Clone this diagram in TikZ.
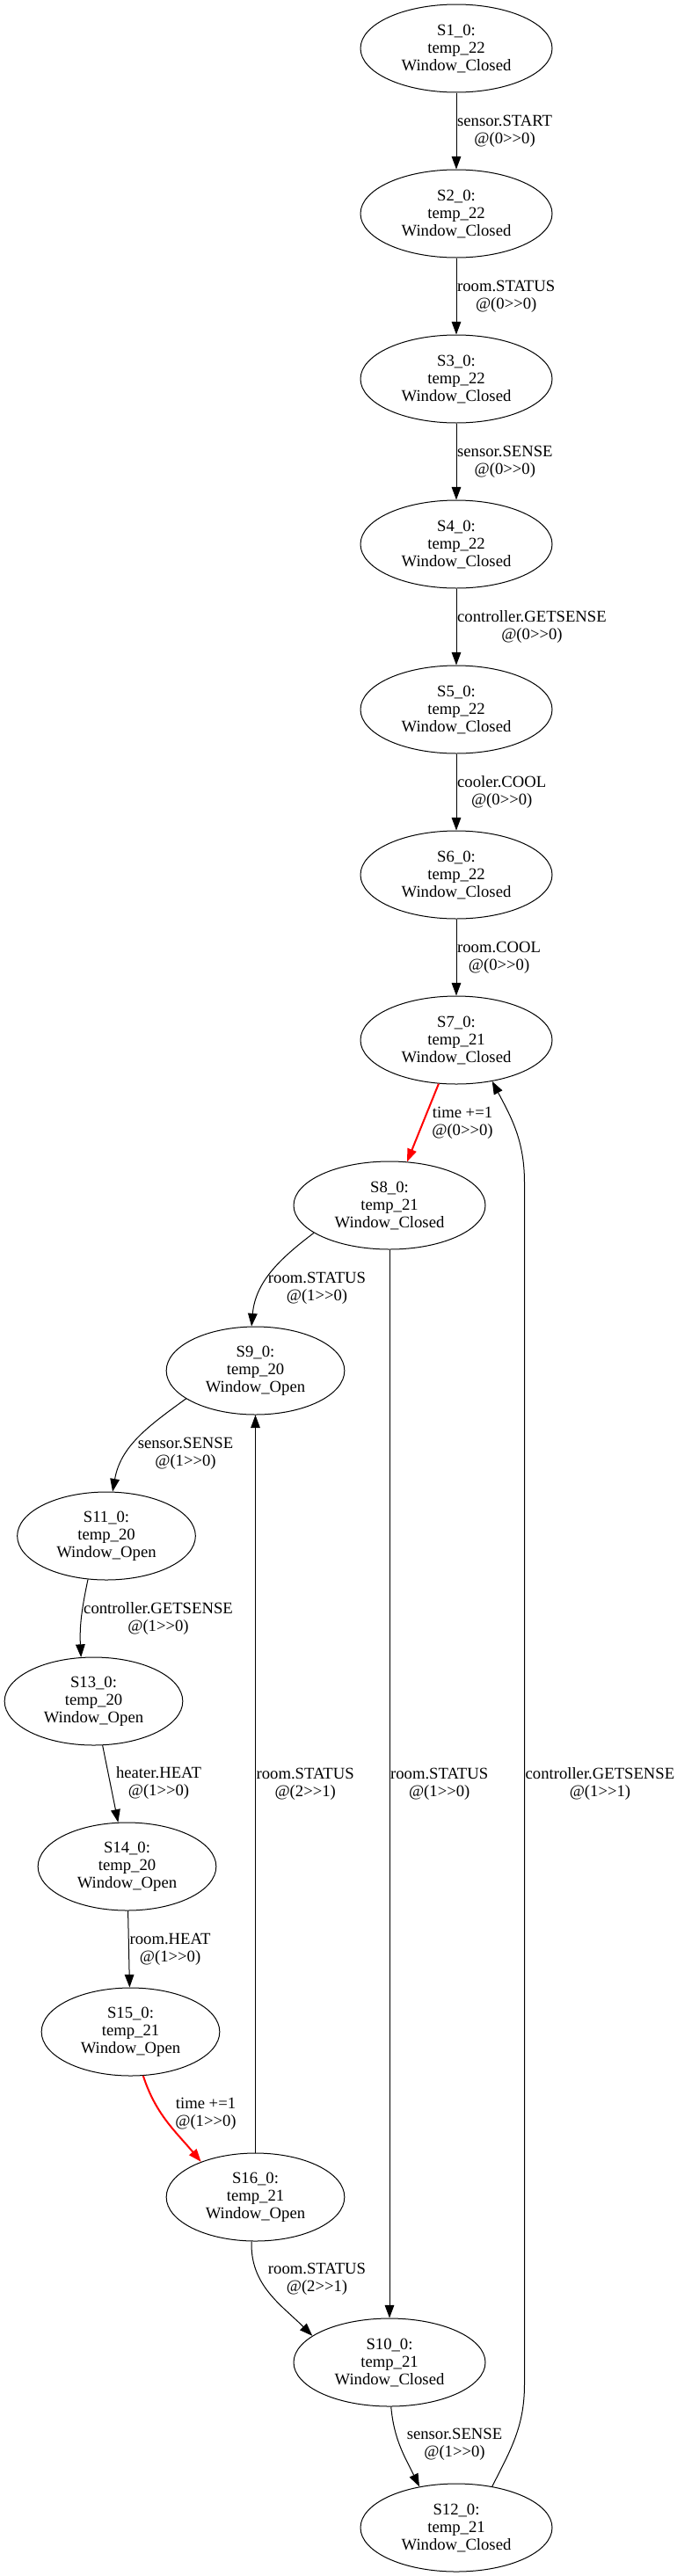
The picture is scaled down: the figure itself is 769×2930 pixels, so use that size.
\documentclass[tikz,border=0pt]{standalone}
\usepackage{fontspec}
\setmainfont{Liberation Serif}
\usetikzlibrary{shapes.geometric,arrows.meta}
\newcommand{\fire}[2]{@(#1>\kern0pt>#2)}
\tikzset{
  state/.style={shape=ellipse, draw=black, line width=0.75pt, minimum width=163.5pt, minimum height=75pt, inner sep=0pt, align=center, font=\fontsize{14}{15}\selectfont},
  open/.style={state, minimum width=152pt},
  trans/.style={-{Triangle[length=11pt,width=8pt]}, line width=0.75pt, draw=black},
  tick/.style={trans, draw=red, line width=1.5pt},
  lbl/.style={align=center, inner sep=0.5pt, font=\fontsize{14}{15}\selectfont},
}
\begin{document}
\begin{tikzpicture}[x=0.75pt, y=-0.75pt]
\useasboundingbox (0,0) rectangle (769,2930);
\node[state] (S1) at (519,55) {S1\_0:\\temp\_22\\Window\_Closed};
\node[state] (S2) at (519,243) {S2\_0:\\temp\_22\\Window\_Closed};
\node[state] (S3) at (519,431) {S3\_0:\\temp\_22\\Window\_Closed};
\node[state] (S4) at (519,619) {S4\_0:\\temp\_22\\Window\_Closed};
\node[state] (S5) at (519,807) {S5\_0:\\temp\_22\\Window\_Closed};
\node[state] (S6) at (519,995) {S6\_0:\\temp\_22\\Window\_Closed};
\node[state] (S7) at (519,1183) {S7\_0:\\temp\_21\\Window\_Closed};
\node[state] (S8) at (443,1371) {S8\_0:\\temp\_21\\Window\_Closed};
\node[open] (S9) at (290.5,1559) {S9\_0:\\temp\_20\\Window\_Open};
\node[open] (S11) at (121,1747) {S11\_0:\\temp\_20\\Window\_Open};
\node[open] (S13) at (106.5,1935) {S13\_0:\\temp\_20\\Window\_Open};
\node[open] (S14) at (144.5,2123) {S14\_0:\\temp\_20\\Window\_Open};
\node[open] (S15) at (148.5,2311) {S15\_0:\\temp\_21\\Window\_Open};
\node[open] (S16) at (290.5,2499) {S16\_0:\\temp\_21\\Window\_Open};
\node[state] (S10) at (443,2687) {S10\_0:\\temp\_21\\Window\_Closed};
\node[state] (S12) at (519,2875) {S12\_0:\\temp\_21\\Window\_Closed};
\coordinate (r1) at (596.5,2712);
\coordinate (r2) at (596.5,1345);
% straight chain
\path[trans] (S1) edge node[lbl, right] {sensor.START\\\fire{0}{0}} (S2);
\path[trans] (S2) edge node[lbl, right] {room.STATUS\\\fire{0}{0}} (S3);
\path[trans] (S3) edge node[lbl, right] {sensor.SENSE\\\fire{0}{0}} (S4);
\path[trans] (S4) edge node[lbl, right] {controller.GETSENSE\\\fire{0}{0}} (S5);
\path[trans] (S5) edge node[lbl, right] {cooler.COOL\\\fire{0}{0}} (S6);
\path[trans] (S6) edge node[lbl, right] {room.COOL\\\fire{0}{0}} (S7);
\draw[tick] (S7) -- (S8);
\node[lbl] (l78) at (526,1277) {time +=1\\\fire{0}{0}};
\draw[trans] (S8.200) to[out=-143, in=85] (S9.95);
\node[lbl] (l89) at (360.5,1465) {room.STATUS\\\fire{1}{0}};
\draw[trans] (S9.202) to[out=-144, in=80] (S11.82);
\node[lbl] (l911) at (211,1653) {sensor.SENSE\\\fire{1}{0}};
\draw[trans] (S11.-113) to[out=-102, in=93] (S13.106);
\node[lbl] (l1113) at (180,1841) {controller.GETSENSE\\\fire{1}{0}};
\draw[trans] (S13) -- (S14);
\node[lbl] (l1314) at (180.5,2028) {heater.HEAT\\\fire{1}{0}};
\path[trans] (S14) edge node[lbl, right] {room.HEAT\\\fire{1}{0}} (S15);
\draw[tick] (S15.-74) to[out=-72, in=130] (S16.147);
\node[lbl] (l1516) at (234,2404) {time +=1\\\fire{1}{0}};
\draw[trans] (S16.-95) to[out=-92, in=135] (S10.161);
\node[lbl] (l1610) at (360.5,2592) {room.STATUS\\\fire{2}{1}};
\draw[trans] (S10.-88) to[out=-85, in=116] (S12.132);
\node[lbl] (l1012) at (517,2780) {sensor.SENSE\\\fire{1}{0}};
% long runs
\path[trans] (S8) edge node[lbl, right] {room.STATUS\\\fire{1}{0}} (S10);
\path[trans] (S16) edge node[lbl, right] {room.STATUS\\\fire{2}{1}} (S9);
\draw[trans] (S12.49) to[out=63, in=-90] (r1) -- node[lbl, right] {controller.GETSENSE\\\fire{1}{1}} (r2) to[out=90, in=-62] (S7.-49);
\end{tikzpicture}
\end{document}
